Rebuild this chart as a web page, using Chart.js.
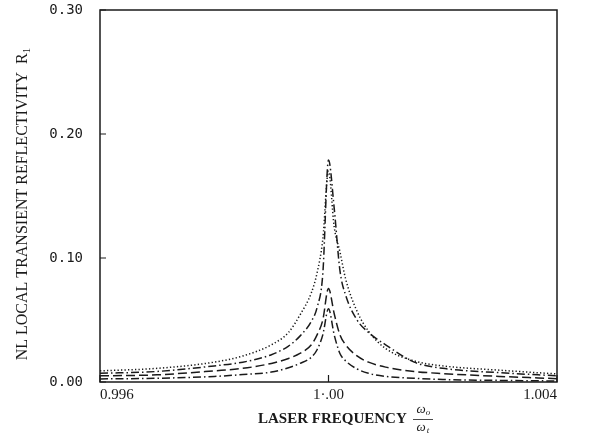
<!DOCTYPE html>
<html>
<head>
<meta charset="utf-8">
<script src="https://cdn.jsdelivr.net/npm/chart.js@4/dist/chart.umd.min.js"></script>
<style>
    html, body { margin: 0; padding: 0; background: #fff; }
    #wrap { width: 595px; height: 438px; position: relative; }
</style>
</head>
<body>
<div id="wrap"><canvas id="chart"></canvas></div>
<script>
// laser frequency w0/wt
const freq = [
    0.9960, 0.9970, 0.9980, 0.9985, 0.9990, 0.9993, 0.9995, 0.9997, 0.9998, 0.9999,
    1.0000,
    1.0001, 1.0002, 1.0003, 1.0005, 1.0007, 1.0010, 1.0015, 1.0020, 1.0030, 1.0040
];

// NL local transient reflectivity R1, one array per curve
const dotted = [
    0.0090, 0.0110, 0.0160, 0.0210, 0.0300, 0.0400, 0.0540, 0.0720, 0.0880, 0.1150,
    0.1700,
    0.1250, 0.1050, 0.0830, 0.0570, 0.0410, 0.0270, 0.0170, 0.0130, 0.0095, 0.0065
];
const dashDotHigh = [
    0.0070, 0.0085, 0.0130, 0.0160, 0.0220, 0.0290, 0.0370, 0.0490, 0.0600, 0.0870,
    0.1790,
    0.1400, 0.0900, 0.0700, 0.0500, 0.0400, 0.0300, 0.0160, 0.0110, 0.0075, 0.0050
];
const dashed = [
    0.0050, 0.0058, 0.0090, 0.0110, 0.0150, 0.0190, 0.0230, 0.0300, 0.0380, 0.0500,
    0.0755,
    0.0550, 0.0380, 0.0300, 0.0210, 0.0160, 0.0120, 0.0085, 0.0068, 0.0045, 0.0027
];
const dashDotLow = [
    0.0025, 0.0030, 0.0045, 0.0060, 0.0080, 0.0115, 0.0150, 0.0200, 0.0260, 0.0380,
    0.0590,
    0.0380, 0.0230, 0.0170, 0.0105, 0.0070, 0.0045, 0.0030, 0.0020, 0.0013, 0.0008
];

const xTicks = [0.996, 1.0, 1.004];
const xTickLabels = ["0.996", "1\u00b7.00", "1.004"];
const yTicks = [0, 0.1, 0.2, 0.3];
const yTickLabels = ["0.00", "0.10", "0.20", "0.30"];

const ink = "#1a1a1a";

function pts(ys) {
    return freq.map((x, i) => ({ x: x, y: ys[i] }));
}

function curve(label, ys, dash, width) {
    return {
        label: label,
        data: pts(ys),
        borderColor: ink,
        borderWidth: width,
        borderDash: dash,
        pointRadius: 0,
        fill: false,
        cubicInterpolationMode: "monotone"
    };
}

// frame, inward tick marks and the two axis titles
const framePlugin = {
    id: "frame",
    afterDraw(chart) {
        const ctx = chart.ctx;
        const a = chart.chartArea;
        const xs = chart.scales.x;
        const ys = chart.scales.y;
        ctx.save();
        ctx.strokeStyle = ink;
        ctx.lineWidth = 1.5;
        ctx.strokeRect(a.left, a.top, a.right - a.left, a.bottom - a.top);

        ctx.lineWidth = 1.2;
        ctx.beginPath();
        yTicks.forEach(v => {
            const py = ys.getPixelForValue(v);
            ctx.moveTo(a.left, py);
            ctx.lineTo(a.left + 6, py);
        });
        xTicks.forEach(v => {
            const px = xs.getPixelForValue(v);
            ctx.moveTo(px, a.bottom);
            ctx.lineTo(px, a.bottom - 7);
        });
        ctx.stroke();

        ctx.fillStyle = ink;

        // y title, rotated
        ctx.save();
        ctx.translate(23, 204);
        ctx.rotate(-Math.PI / 2);
        ctx.font = "16px 'Liberation Serif', serif";
        ctx.textBaseline = "middle";
        const main = "NL LOCAL TRANSIENT REFLECTIVITY  R";
        const wMain = ctx.measureText(main).width;
        ctx.font = "11px 'Liberation Serif', serif";
        const wSub = ctx.measureText("1").width;
        const start = -(wMain + wSub) / 2;
        ctx.font = "16px 'Liberation Serif', serif";
        ctx.textAlign = "left";
        ctx.fillText(main, start, 0);
        ctx.font = "11px 'Liberation Serif', serif";
        ctx.fillText("1", start + wMain, 4);
        ctx.restore();

        // x title with the w0 / wt fraction
        ctx.font = "bold 15px 'Liberation Serif', serif";
        ctx.textAlign = "left";
        ctx.textBaseline = "middle";
        ctx.fillText("LASER FREQUENCY", 258, 419);
        ctx.font = "italic 13px 'Liberation Serif', serif";
        ctx.textAlign = "center";
        ctx.fillText("\u03c9", 421, 410);
        ctx.fillText("\u03c9", 421, 428);
        ctx.font = "italic 9px 'Liberation Serif', serif";
        ctx.fillText("o", 428, 413);
        ctx.fillText("t", 428, 431);
        ctx.lineWidth = 0.8;
        ctx.beginPath();
        ctx.moveTo(413, 419.5);
        ctx.lineTo(433, 419.5);
        ctx.stroke();
        ctx.restore();
    }
};

new Chart(document.getElementById("chart"), {
    type: "line",
    data: {
        datasets: [
            curve("dotted", dotted, [1.3, 2.2], 1.5),
            curve("dash-dot high", dashDotHigh, [8, 3, 1.5, 3], 1.5),
            curve("dashed", dashed, [9, 4], 1.5),
            curve("dash-dot low", dashDotLow, [8, 3, 1.5, 3], 1.5)
        ]
    },
    options: {
        responsive: true,
        maintainAspectRatio: false,
        animation: false,
        layout: {
            padding: { top: 10, right: 38, left: 0, bottom: 0 }
        },
        plugins: {
            legend: { display: false },
            tooltip: { enabled: false }
        },
        scales: {
            x: {
                type: "linear",
                min: 0.996,
                max: 1.004,
                afterBuildTicks(scale) {
                    scale.ticks = xTicks.map(v => ({ value: v }));
                },
                afterFit(scale) {
                    scale.height = 56;
                    scale.paddingLeft = 0;
                    scale.paddingRight = 0;
                },
                grid: { display: false, drawTicks: false },
                border: { display: false },
                ticks: {
                    align: "inner",
                    padding: 4,
                    color: ink,
                    font: { family: "'Liberation Serif', serif", size: 15 },
                    callback: (v, i) => xTickLabels[i]
                }
            },
            y: {
                min: 0,
                max: 0.3,
                afterBuildTicks(scale) {
                    scale.ticks = yTicks.map(v => ({ value: v }));
                },
                afterFit(scale) {
                    scale.width = 100;
                    scale.paddingTop = 0;
                    scale.paddingBottom = 0;
                },
                grid: { display: false, drawTicks: false },
                border: { display: false },
                ticks: {
                    padding: 17,
                    color: ink,
                    font: { family: "'DejaVu Sans Mono', monospace", size: 14 },
                    callback: (v, i) => yTickLabels[i]
                }
            }
        }
    },
    plugins: [framePlugin]
});
</script>
</body>
</html>
